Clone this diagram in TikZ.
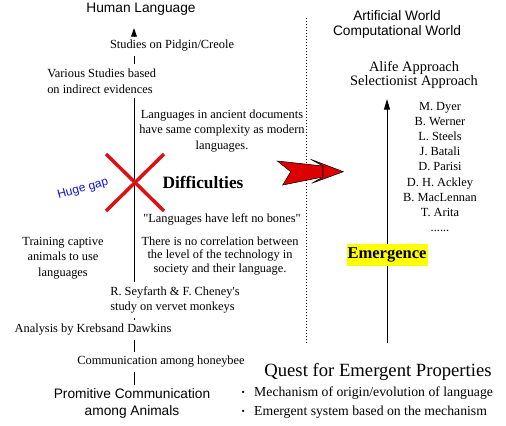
\documentclass[tikz,border=0pt]{standalone}
\usepackage{fontspec}
\setmainfont{Liberation Serif}
\setsansfont{Liberation Sans}
\newfontfamily\plainserif{Liberation Serif}[Ligatures=TeXOff]
\usetikzlibrary{arrows.meta,calc}
\definecolor{xred}{RGB}{221,17,17}
\definecolor{arrred}{RGB}{221,0,0}
\definecolor{gapblue}{RGB}{17,17,221}
\definecolor{emyellow}{RGB}{255,255,0}
\newcommand{\mybul}{\raisebox{0.5pt}{\fontsize{7}{7}\selectfont •}\hspace{7pt}}
\begin{document}
\begin{tikzpicture}[x=0.75pt,y=-0.75pt,
  txt/.style={font=\fontsize{9.3}{11.5}\selectfont, inner sep=3pt, align=center},
  sanstxt/.style={font=\sffamily\fontsize{10.3}{11.3}\selectfont, inner sep=2pt, align=center},
  vline/.style={draw=black, line width=0.75pt},
  redx/.style={draw=xred, line width=2.6pt},
  dotline/.style={draw=black, line width=0.75pt, dash pattern=on 0.75pt off 1.5pt},
  bigarrow/.style={fill=arrred, draw=black, line width=0.4pt, line join=miter},
  gaplabel/.style={font=\sffamily\fontsize{9}{10}\selectfont, text=gapblue, rotate=15, inner sep=1pt},
  emergbox/.style={fill=emyellow, font=\bfseries\fontsize{12.4}{14}\selectfont, minimum width=60.75pt, minimum height=16.5pt, inner sep=0pt},
  tipL/.style={-{Triangle[length=6.5pt,width=4.3pt]}},
  tipR/.style={-{Triangle[length=8pt,width=4.5pt]}}
]
\useasboundingbox (0,0) rectangle (506,425);

% ---------- left column: human language ----------
\coordinate (L) at (134,0);
\coordinate (topL) at (134,28);
\node[sanstxt] (human) at (141,9) {Human Language};
\node[txt] (pidgin) at (172,46) {Studies on Pidgin/Creole};
\node[txt, align=left, anchor=west, font=\fontsize{9.3}{12}\selectfont] (various) at (43,81) {Various Studies based\\on indirect evidences};
\node[txt, font=\fontsize{9.3}{11.6}\selectfont] (ancient) at (222,131) {Languages in ancient documents\\have same complexity as modern\\languages.};
\node[font=\bfseries\fontsize{13}{15}\selectfont, inner sep=1pt] (diff) at (203,182) {Difficulties};
\node[gaplabel] (gap) at (83,189) {Huge gap};
\node[txt, font=\plainserif\fontsize{9.3}{11.5}\selectfont] (bones) at (222,219) {"Languages have left no bones"};
\node[txt, font=\fontsize{9.3}{10.2}\selectfont] (corr) at (220,256) {There is no correlation between\\the level of the technology in\\society and their language.};
\node[txt, font=\fontsize{9.3}{11.6}\selectfont] (training) at (63,258) {Training captive\\animals to use\\languages};
\node[txt, align=left, anchor=west, font=\plainserif\fontsize{9.3}{11.5}\selectfont] (seyfarth) at (106,300) {R. Seyfarth \& F. Cheney's\\study on vervet monkeys};
\node[txt] (krebs) at (93,330) {Analysis by Krebsand Dawkins};
\node[txt] (bee) at (161,362) {Communication among honeybee};
\node[sanstxt, font=\sffamily\fontsize{10.3}{12.7}\selectfont] (prim) at (132,403) {Promitive Communication\\among Animals};

\draw[vline, tipL] (pidgin.north -| L) -- (topL);
\draw[vline] (pidgin.south -| L) -- (various.north -| L);
\draw[vline] (various.south -| L) -- (seyfarth.north -| L);
\draw[vline] (seyfarth.south -| L) -- (krebs.north -| L);
\draw[vline] (krebs.south -| L) -- (bee.north -| L);
\draw[vline] (bee.south -| L) -- (prim.north -| L);

% red cross
\draw[redx] (106,154) -- (164,211);
\draw[redx] (164,154) -- (106,211);

% ---------- separator and big arrow ----------
\coordinate (dtop) at (306,18);
\coordinate (dbot) at (306,345);
\draw[dotline] (dtop) -- (dbot);
\filldraw[bigarrow] (277.3,161) -- (323,166) -- (323,177) -- (282.7,185) -- (290.7,171.7) -- cycle;
\filldraw[bigarrow] (310.7,159.3) -- (343.3,171.7) -- (311.7,183.3) -- (323,177) -- (323,166) -- cycle;

% ---------- right column: artificial world ----------
\node[sanstxt] (art) at (397,24) {Artificial World\\Computational World};
\node[txt, font=\fontsize{10.8}{10.5}\selectfont, inner sep=1pt] (alife) at (414,75) {Alife Approach\\Selectionist Approach};
\node[txt, font=\fontsize{9.3}{11.3}\selectfont] (names) at (440,167) {M. Dyer\\B. Werner\\L. Steels\\J. Batali\\D. Parisi\\D. H. Ackley\\B. MacLennan\\T. Arita\\......};
\coordinate (rbot) at (387,343);
\coordinate (rtop) at (387,99);
\draw[vline, tipR] (rbot) -- (rtop);
\node[emergbox] (emerg) at (387,255) {Emergence};

\node[font=\fontsize{14}{16}\selectfont, inner sep=1pt] (quest) at (378,372) {Quest for Emergent Properties};
\node[txt, align=left, anchor=west, font=\fontsize{10.3}{14.2}\selectfont, inner sep=1pt] (mech) at (240,402.5) {\mybul Mechanism of origin/evolution of language\\\mybul Emergent system based on the mechanism};
\end{tikzpicture}
\end{document}
